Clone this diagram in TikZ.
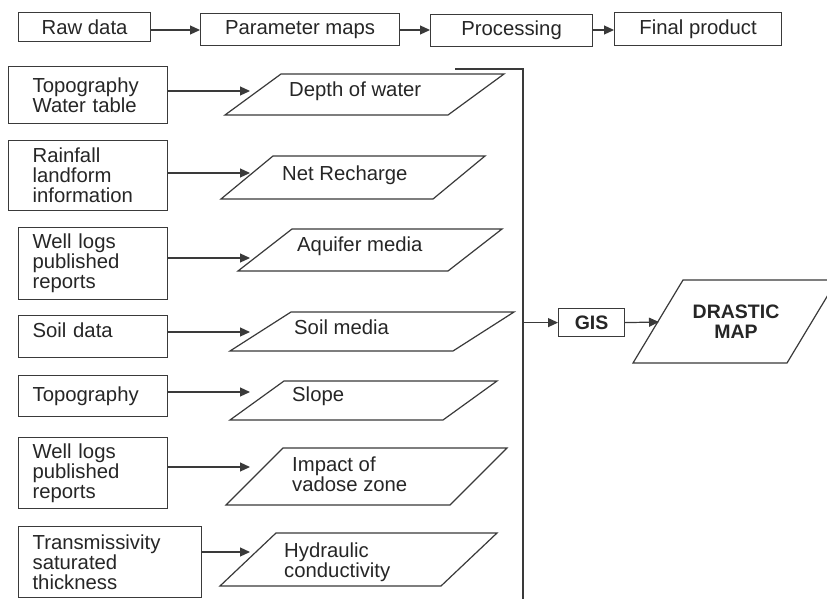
\documentclass[tikz,border=0pt]{standalone}
\usepackage{fontspec}
\setmainfont{Liberation Sans}
\usetikzlibrary{arrows.meta}
\definecolor{lncol}{HTML}{3A3A3A}
\definecolor{txcol}{HTML}{262626}
\begin{document}
\begin{tikzpicture}[x=1pt,y=-1pt,
  every node/.style={text=txcol},
  fnt/.style={font=\fontsize{20.3}{20}\selectfont},
  bfnt/.style={font=\fontsize{19.5}{20}\selectfont\bfseries},
  topbox/.style={draw=lncol,line width=1.2pt,fnt,anchor=north west,inner sep=0pt},
  lbox/.style={draw=lncol,line width=1.2pt,fnt,anchor=north west,align=left,inner ysep=0pt,inner xsep=14pt,text width=121pt},
  ptxt/.style={fnt,align=left,anchor=base west,inner sep=0pt},
  para/.style={draw=lncol,line width=1.2pt,line join=miter},
  wire/.style={draw=lncol,line width=1.2pt},
  arr/.style={draw=lncol,line width=1.2pt,-{Triangle[length=10pt,width=9pt]}}
]
\useasboundingbox (0,0) rectangle (827,599);
\clip (0,0) rectangle (827,599);
\fill[white] (0,0) rectangle (827,599);

% top row
\node[topbox,minimum width=132pt,minimum height=29pt] (rd) at (18,12) {Raw data};
\node[topbox,minimum width=199pt,minimum height=32pt] (pm) at (200,13) {Parameter maps};
\node[topbox,minimum width=162pt,minimum height=32pt] (pr) at (430,14) {Processing};
\node[topbox,minimum width=167pt,minimum height=33pt] (fp) at (614,12) {Final product};
\coordinate (ty) at (0,30);
\draw[arr] (rd.east |- ty) -- (pm.west |- ty);
\draw[arr] (pm.east |- ty) -- (pr.west |- ty);
\draw[arr] (pr.east |- ty) -- (fp.west |- ty);

% left boxes
\node[lbox,inner xsep=24pt,text width=111pt,minimum height=57pt] (b1) at (8,66) {Topography\\Water table};
\node[lbox,inner xsep=24pt,text width=111pt,minimum height=70pt] (b2) at (8,140) {Rainfall\\landform\\information};
\node[lbox,minimum height=72pt] (b3) at (18,227) {Well logs\\published\\reports};
\node[lbox,minimum height=42pt,text depth=12pt] (b4) at (18,315) {Soil data};
\node[lbox,minimum height=41pt] (b5) at (18,375) {Topography};
\node[lbox,minimum height=71pt] (b6) at (18,437) {Well logs\\published\\reports};
\node[lbox,text width=155pt,minimum height=71pt] (b7) at (18,526) {Transmissivity\\saturated\\thickness};

% parameter map parallelograms
\draw[para] (225,115) -- (448,115) -- (504,74) -- (281,74) -- cycle;
\draw[para] (221,199) -- (433,199) -- (485,156) -- (273,156) -- cycle;
\draw[para] (238,271) -- (448,271) -- (502,229) -- (292,229) -- cycle;
\draw[para] (230,351) -- (453,351) -- (514,312) -- (291,312) -- cycle;
\draw[para] (230,420) -- (443,420) -- (497,381) -- (284,381) -- cycle;
\draw[para] (226,505) -- (450,505) -- (507,448) -- (283,448) -- cycle;
\draw[para] (220,586) -- (441,586) -- (497,533) -- (276,533) -- cycle;

\node[ptxt] (p1) at (289,97) {Depth of water};
\node[ptxt] (p2) at (282,180) {Net Recharge};
\node[ptxt] (p3) at (297,251) {Aquifer media};
\node[ptxt] (p4) at (294,334) {Soil media};
\node[ptxt] (p5) at (292,401) {Slope};
\node[ptxt] (p6) at (292,491) {Impact of\\vadose zone};
\node[ptxt] (p7) at (284,577) {Hydraulic\\conductivity};

\coordinate (a1) at (250,91);
\coordinate (a2) at (250,173);
\coordinate (a3) at (250,258);
\coordinate (a4) at (250,332);
\coordinate (a5) at (250,392);
\coordinate (a6) at (250,467);
\coordinate (a7) at (250,552);
\draw[arr] (b1.east |- a1) -- (a1);
\draw[arr] (b2.east |- a2) -- (a2);
\draw[arr] (b3.east |- a3) -- (a3);
\draw[arr] (b4.east |- a4) -- (a4);
\draw[arr] (b5.east |- a5) -- (a5);
\draw[arr] (b6.east |- a6) -- (a6);
\draw[arr] (b7.east |- a7) -- (a7);

% collector line
\coordinate (htop) at (455,69);
\coordinate (vtop) at (523,69);
\coordinate (vbot) at (523,599);
\draw[wire] (htop) -- (vtop) -- (vbot);

% GIS and DRASTIC map
\node[draw=lncol,line width=1.2pt,bfnt,anchor=north west,inner sep=0pt,minimum width=66pt,minimum height=28pt] (gis) at (558,308) {GIS};
\draw[arr] (gis.west -| vtop) -- (gis.west);
\draw[para] (633,363) -- (787,363) -- (837,280) -- (683,280) -- cycle;
\node[bfnt,align=center,inner sep=0pt] (dm) at (736,322) {DRASTIC\\MAP};
\coordinate (dmin) at (659,322);
\draw[arr] (gis.east) -- (dmin);
\end{tikzpicture}
\end{document}
